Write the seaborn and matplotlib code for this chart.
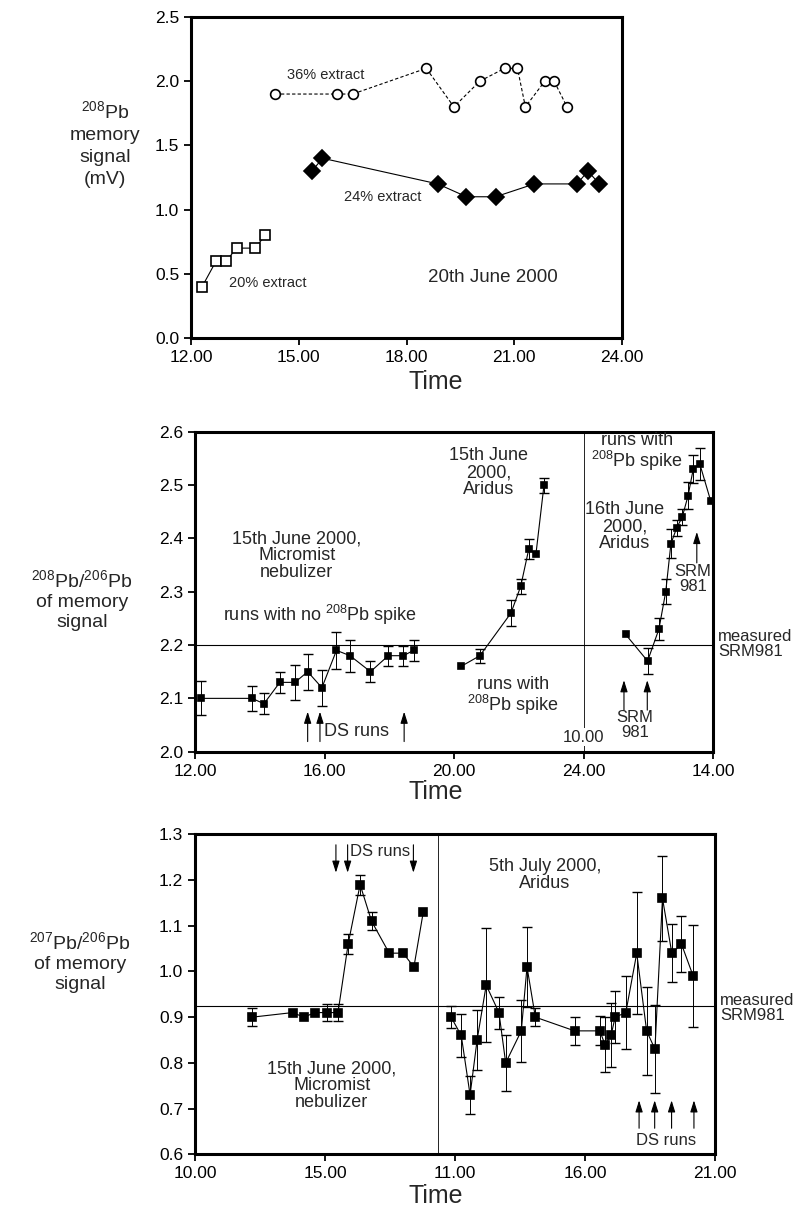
import numpy as np
import matplotlib
matplotlib.use("Agg")
import matplotlib.pyplot as plt
import seaborn as sns

# ---- panel 1: 208Pb memory signal, 20th June 2000 ----
t_20 = [12.31, 12.70, 12.98, 13.27, 13.78, 14.07]
v_20 = [0.4, 0.6, 0.6, 0.7, 0.7, 0.8]
t_36 = [14.35, 16.07, 16.50, 18.55, 19.32, 20.04, 20.73, 21.09, 21.31, 21.85, 22.11, 22.47]
v_36 = [1.9, 1.9, 1.9, 2.1, 1.8, 2.0, 2.1, 2.1, 1.8, 2.0, 2.0, 1.8]
t_24 = [15.37, 15.66, 18.87, 19.67, 20.48, 21.56, 22.75, 23.05, 23.37]
v_24 = [1.3, 1.4, 1.2, 1.1, 1.1, 1.2, 1.2, 1.3, 1.2]

# ---- panel 2: 208Pb/206Pb, 15th-16th June ----
micro_t = [12.19, 13.76, 14.13, 14.62, 15.09, 15.48, 15.92, 16.37, 16.79, 17.42, 17.97, 18.44, 18.75]
micro_v = [2.10, 2.10, 2.09, 2.13, 2.13, 2.15, 2.12, 2.19, 2.18, 2.15, 2.18, 2.18, 2.19]
micro_e = [0.032, 0.023, 0.020, 0.020, 0.033, 0.034, 0.034, 0.035, 0.030, 0.020, 0.019, 0.019, 0.020]
ari15_t = [20.22, 20.80, 21.76, 22.06, 22.31, 22.53, 22.78]
ari15_v = [2.16, 2.18, 2.26, 2.31, 2.38, 2.37, 2.50]
ari15_e = [0.0, 0.013, 0.025, 0.014, 0.018, 0.0, 0.014]
# clock time on 16th June (axis continues: 10.00 next day sits at 24.00)
ari16_t = [11.30, 11.98, 12.33, 12.54, 12.70, 12.88, 13.05, 13.23, 13.39, 13.59, 13.93]
ari16_v = [2.22, 2.17, 2.23, 2.30, 2.39, 2.42, 2.44, 2.48, 2.53, 2.54, 2.47]
ari16_e = [0.0, 0.024, 0.020, 0.023, 0.027, 0.015, 0.015, 0.025, 0.026, 0.030, 0.0]
day2_shift = 14.0
srm_208 = 2.2

# ---- panel 3: 207Pb/206Pb, 15th June and 5th July ----
jun_t = [12.20, 13.75, 14.19, 14.61, 15.09, 15.50, 15.89, 16.35, 16.79, 17.47, 18.00, 18.42, 18.78]
jun_v = [0.90, 0.91, 0.90, 0.91, 0.91, 0.91, 1.06, 1.19, 1.11, 1.04, 1.04, 1.01, 1.13]
jun_e = [0.020, 0.0, 0.0, 0.0, 0.018, 0.018, 0.021, 0.022, 0.020, 0.0, 0.0, 0.0, 0.0]
jul_t = [10.85, 11.24, 11.58, 11.85, 12.20, 12.69, 12.95, 13.55, 13.77, 14.09, 15.60, 16.57,
         16.77, 17.00, 17.16, 17.57, 17.99, 18.37, 18.69, 18.98, 19.34, 19.71, 20.16]
jul_v = [0.90, 0.86, 0.73, 0.85, 0.97, 0.91, 0.80, 0.87, 1.01, 0.90, 0.87, 0.87,
         0.84, 0.86, 0.90, 0.91, 1.04, 0.87, 0.83, 1.16, 1.04, 1.06, 0.99]
jul_e = [0.024, 0.047, 0.042, 0.066, 0.124, 0.035, 0.062, 0.068, 0.087, 0.019, 0.031, 0.032,
         0.060, 0.070, 0.057, 0.080, 0.133, 0.096, 0.096, 0.093, 0.064, 0.062, 0.111]
jul_shift = 9.0
jul_start = 10.33
srm_207 = 0.925

sns.set_style("ticks")
plt.rcParams["font.family"] = ["Liberation Sans", "DejaVu Sans"]
plt.rcParams["mathtext.fontset"] = "custom"
plt.rcParams["mathtext.rm"] = "Liberation Sans"
plt.rcParams["mathtext.it"] = "Liberation Sans:italic"
plt.rcParams["mathtext.bf"] = "Liberation Sans:bold"

W, H = 798, 1212
fig = plt.figure(figsize=(W / 100, H / 100), dpi=100)


def px_axes(left, top, right, bottom):
    return fig.add_axes([left / W, 1 - bottom / H, (right - left) / W, (bottom - top) / H])


def style(ax):
    for s in ax.spines.values():
        s.set_linewidth(2.2)
        s.set_color("black")
    ax.tick_params(direction="out", length=5, width=1.3, labelsize=12.5, colors="black")


def series(ax, t, v, marker, ms, mfc="black", ls="-"):
    sns.lineplot(x=t, y=v, ax=ax, color="black", linewidth=0.8, linestyle=ls,
                 marker=marker, markersize=ms, markerfacecolor=mfc,
                 markeredgecolor="black", markeredgewidth=1.2, estimator=None, legend=False)


def errbars(ax, t, v, e):
    t, v, e = np.asarray(t), np.asarray(v), np.asarray(e)
    m = e > 0
    ax.errorbar(t[m], v[m], yerr=e[m], fmt="none", ecolor="black",
                elinewidth=0.7, capsize=3.5, capthick=1.0)


def arrow(ax, x, y0, y1):
    ax.annotate("", xy=(x, y1), xytext=(x, y0),
                arrowprops=dict(arrowstyle="-|>,head_length=0.7,head_width=0.22",
                                color="black", lw=0.8, shrinkA=0, shrinkB=0))


# ---------------- top panel ----------------
ax1 = px_axes(191, 17, 622, 338)
series(ax1, t_20, v_20, "s", 7, mfc="white")
series(ax1, t_36, v_36, "o", 7, mfc="white", ls=(0, (3, 2)))
series(ax1, t_24, v_24, "D", 8, mfc="black")
ax1.set_xlim(12, 24)
ax1.set_ylim(0, 2.5)
ax1.set_xticks([12, 15, 18, 21, 24], ["12.00", "15.00", "18.00", "21.00", "24.00"])
ax1.set_yticks(np.arange(0, 2.51, 0.5), [f"{y:.1f}" for y in np.arange(0, 2.51, 0.5)])
ax1.set_xlabel("")
ax1.set_ylabel("")
style(ax1)
ax1.text(15.74, 2.048, "36% extract", fontsize=10.5, ha="center", va="center")
ax1.text(17.35, 1.098, "24% extract", fontsize=10.5, ha="center", va="center")
ax1.text(14.14, 0.428, "20% extract", fontsize=10.5, ha="center", va="center")
ax1.text(20.41, 0.475, "20th June 2000", fontsize=13.5, ha="center", va="center")

# ---------------- middle panel ----------------
ax2 = px_axes(195, 431.7, 713, 751.7)
ari16_p = [t + day2_shift for t in ari16_t]
ax2.axhline(srm_208, color="black", lw=0.8)
ax2.axvline(24, color="black", lw=0.6)
series(ax2, micro_t, micro_v, "s", 5)
series(ax2, ari15_t, ari15_v, "s", 5)
series(ax2, ari16_p, ari16_v, "s", 5)
errbars(ax2, micro_t, micro_v, micro_e)
errbars(ax2, ari15_t, ari15_v, ari15_e)
errbars(ax2, ari16_p, ari16_v, ari16_e)
ax2.set_xlim(12, 28)
ax2.set_ylim(2.0, 2.6)
ax2.set_xticks([12, 16, 20, 24, 28], ["12.00", "16.00", "20.00", "24.00", "14.00"])
yt = np.arange(2.0, 2.61, 0.1)
ax2.set_yticks(yt, [f"{y:.1f}" for y in yt])
ax2.set_xlabel("")
ax2.set_ylabel("")
style(ax2)
fs = 13
ax2.text(15.14, 2.367, "15th June 2000,\nMicromist\nnebulizer", fontsize=fs, ha="center",
         va="center", linespacing=1.0)
ax2.text(15.86, 2.256, "runs with no $^{208}$Pb spike", fontsize=fs, ha="center", va="center")
ax2.text(21.08, 2.523, "15th June\n2000,\nAridus", fontsize=fs, ha="center", va="center",
         linespacing=1.0)
ax2.text(25.65, 2.561, "runs with\n$^{208}$Pb spike", fontsize=fs, ha="center", va="center",
         linespacing=1.0)
ax2.text(25.28, 2.422, "16th June\n2000,\nAridus", fontsize=fs, ha="center", va="center",
         linespacing=1.0)
ax2.text(21.82, 2.104, "runs with\n$^{208}$Pb spike", fontsize=fs, ha="center", va="center",
         linespacing=1.0)
ax2.text(24.0, 2.027, "10.00", fontsize=12, ha="center", va="center",
         bbox=dict(facecolor="white", edgecolor="none", pad=1))
ax2.text(17.0, 2.037, "DS runs", fontsize=fs, ha="center", va="center")
ax2.text(25.59, 2.05, "SRM\n981", fontsize=12, ha="center", va="center", linespacing=1.0)
ax2.text(27.38, 2.324, "SRM\n981", fontsize=12, ha="center", va="center", linespacing=1.0)
for x in [15.48, 15.86, 18.46]:
    arrow(ax2, x, 2.019, 2.075)
for x in [25.25, 25.97]:
    arrow(ax2, x, 2.078, 2.134)
arrow(ax2, 27.5, 2.354, 2.412)

# ---------------- bottom panel ----------------
ax3 = px_axes(195, 834.3, 715, 1154.3)
jul_p = [t + jul_shift for t in jul_t]
ax3.axhline(srm_207, color="black", lw=0.8)
ax3.axvline(jul_start + jul_shift, color="black", lw=0.6)
series(ax3, jun_t, jun_v, "s", 5.5)
series(ax3, jul_p, jul_v, "s", 5.5)
errbars(ax3, jun_t, jun_v, jun_e)
errbars(ax3, jul_p, jul_v, jul_e)
ax3.set_xlim(10, 30)
ax3.set_ylim(0.6, 1.3)
ax3.set_xticks([10, 15, 20, 25, 30], ["10.00", "15.00", "11.00", "16.00", "21.00"])
yt = np.arange(0.6, 1.31, 0.1)
ax3.set_yticks(yt, [f"{y:.1f}" for y in yt])
ax3.set_xlabel("")
ax3.set_ylabel("")
style(ax3)
ax3.text(15.26, 0.75, "15th June 2000,\nMicromist\nnebulizer", fontsize=fs, ha="center",
         va="center", linespacing=1.0)
ax3.text(23.46, 1.211, "5th July 2000,\nAridus", fontsize=fs, ha="center", va="center",
         linespacing=1.0)
ax3.text(17.12, 1.262, "DS runs", fontsize=12, ha="center", va="center")
ax3.text(28.12, 0.631, "DS runs", fontsize=12, ha="center", va="center")
for x in [15.42, 15.87, 18.40]:
    arrow(ax3, x, 1.277, 1.216)
for x in [27.08, 27.68, 28.33, 29.19]:
    arrow(ax3, x, 0.657, 0.718)

# ---------------- figure-level labels ----------------
def ftext(x, y, s, **kw):
    fig.text(x / W, 1 - y / H, s, **kw)


ftext(105, 144, "$^{208}$Pb\nmemory\nsignal\n(mV)", fontsize=14, ha="center", va="center",
      linespacing=1.4)
ftext(82, 600, "$^{208}$Pb/$^{206}$Pb\nof memory\nsignal", fontsize=14, ha="center",
      va="center", linespacing=1.2)
ftext(80, 962, "$^{207}$Pb/$^{206}$Pb\nof memory\nsignal", fontsize=14, ha="center",
      va="center", linespacing=1.2)
for y in [382, 792, 1196]:
    ftext(436, y, "Time", fontsize=18, ha="center", va="center")
ftext(718, 644, "measured\nSRM981", fontsize=12, ha="left", va="center", linespacing=1.0)
ftext(720, 1008, "measured\nSRM981", fontsize=12, ha="left", va="center", linespacing=1.0)

fig.savefig("out.png", dpi=100, facecolor="white")
